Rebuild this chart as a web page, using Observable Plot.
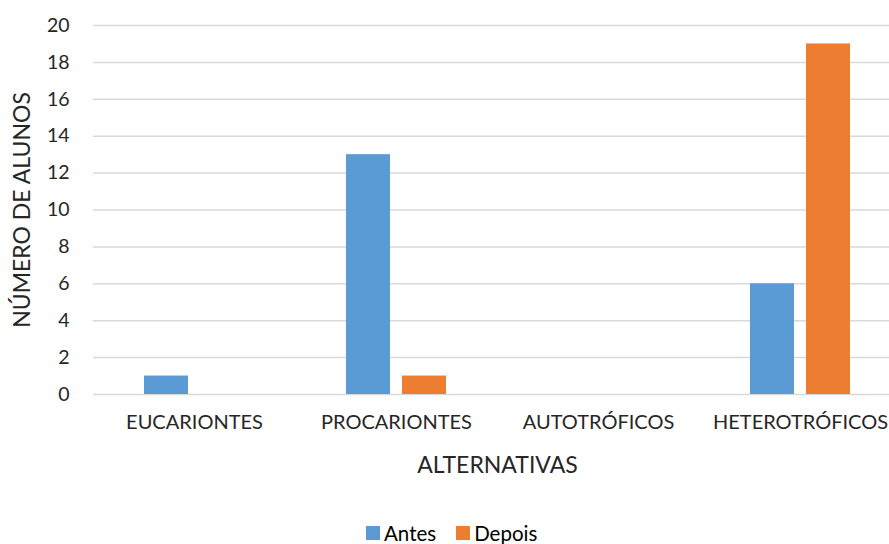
<!DOCTYPE html>
<html>
<head>
<meta charset="utf-8">
<script src="https://cdn.jsdelivr.net/npm/d3@7"></script>
<script src="https://cdn.jsdelivr.net/npm/@observablehq/plot@0.6"></script>
<style>
  html, body { margin: 0; padding: 0; background: #fff; }
  body { width: 889px; height: 544px; overflow: hidden; position: relative; font-family: Lato, "Open Sans", sans-serif; }
  #legend { position: absolute; left: 366px; top: 522px; line-height: 1.1; }
</style>
</head>
<body>
<div id="chart"></div>
<div id="legend"></div>
<script>
// Respostas dos alunos antes e depois da intervenção
const categories = ["EUCARIONTES", "PROCARIONTES", "AUTOTRÓFICOS", "HETEROTRÓFICOS"];
const series = ["Antes", "Depois"];
const antes = [1, 13, 0, 6];
const depois = [0, 1, 0, 19];
const yTicks = [0, 2, 4, 6, 8, 10, 12, 14, 16, 18, 20];
const colors = ["#5B9BD5", "#ED7D31"];

const rows = categories.flatMap((cat, i) => [
  {cat, serie: series[0], value: antes[i]},
  {cat, serie: series[1], value: depois[i]}
]);

const chart = Plot.plot({
  width: 889,
  height: 490,
  marginLeft: 91,
  marginRight: -13,
  marginTop: 25,
  marginBottom: 96,
  style: {fontFamily: "Lato, sans-serif", fontSize: "20px", color: "#262626", background: "#fff", overflow: "visible"},
  fx: {domain: categories, padding: 0},
  x: {domain: series, paddingInner: 0.21, paddingOuter: 0.883, axis: null},
  y: {domain: [0, 20]},
  color: {domain: series, range: colors},
  marks: [
    Plot.gridY(yTicks, {stroke: "#D9D9D9", strokeOpacity: 1, strokeWidth: 1.5}),
    Plot.axisY(yTicks, {
      tickSize: 0, tickPadding: 24, fontSize: 19.5,
      label: "NÚMERO DE ALUNOS", labelAnchor: "center", labelOffset: 80, labelArrow: "none"
    }),
    Plot.axisFx({
      anchor: "bottom", tickSize: 0, tickPadding: 20, fontSize: 20,
      label: "ALTERNATIVAS", labelAnchor: "center", labelOffset: 78, labelArrow: "none"
    }),
    Plot.barY(rows, {fx: "cat", x: "serie", y: "value", fill: "serie"})
  ]
});
// axis titles are set a little larger than the tick labels
chart.querySelectorAll("[aria-label='y-axis label'] text, [aria-label='fx-axis label'] text, [aria-label='y-axis label'], [aria-label='fx-axis label']")
  .forEach(el => el.setAttribute("font-size", "23"));
document.getElementById("chart").append(chart);

const legend = Plot.legend({color: {domain: series, range: colors}, swatchSize: 14});
legend.style.fontFamily = "Lato, sans-serif";
legend.style.fontSize = "20.5px";
legend.style.minHeight = "0";
legend.style.columnGap = "0";
legend.querySelectorAll("span").forEach(s => { s.style.marginRight = "20px"; });
legend.querySelectorAll("span > svg").forEach(s => { s.style.marginRight = "4px"; });
document.getElementById("legend").append(legend);
</script>
</body>
</html>
